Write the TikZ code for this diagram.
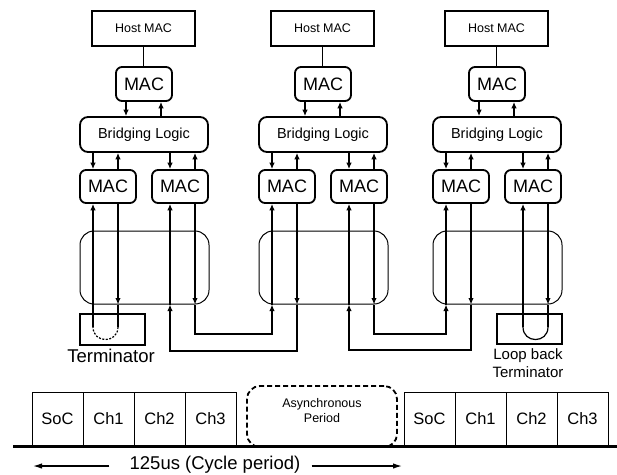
\documentclass[tikz,border=0pt]{standalone}
\usepackage{fontspec}
\setmainfont{Liberation Sans}
\usetikzlibrary{arrows.meta,calc}
\begin{document}
\begin{tikzpicture}[x=1pt,y=-1pt,
  hostbox/.style={draw, line width=1.2pt, minimum width=103pt, minimum height=35pt, inner sep=0pt, font=\fontsize{12.5}{14}\selectfont},
  macbox/.style={draw, line width=1.8pt, rounded corners=6pt, minimum width=56pt, minimum height=34pt, inner sep=0pt, font=\fontsize{18}{20}\selectfont},
  blbox/.style={draw, line width=1.8pt, rounded corners=8pt, minimum width=128pt, minimum height=35pt, inner sep=0pt, font=\fontsize{14.5}{16}\selectfont},
  ringbox/.style={draw, line width=1pt, rounded corners=14pt, minimum width=129pt, minimum height=73pt, inner sep=0pt},
  termbox/.style={draw, line width=1.2pt, minimum width=65pt, minimum height=31pt, inner sep=0pt},
  arr/.style={-{Latex[length=6.5pt,width=5.5pt]}, line width=1.2pt},
  ln/.style={line width=1.2pt},
  slot/.style={draw, line width=1pt, minimum width=51pt, minimum height=54pt, inner sep=0pt, font=\fontsize{16.5}{18}\selectfont},
  lbl/.style={inner sep=0pt, align=center},
  longarr/.style={-{Latex[length=9pt,width=5.5pt]}, line width=1.3pt},
]
\useasboundingbox (0,0) rectangle (617,474);

% helper coordinates for levels
\coordinate (uy) at (0,327);
\coordinate (ya) at (0,334);
\coordinate (yb) at (0,351);
\coordinate (yc) at (0,350);

\foreach \g/\dx in {1/0,2/179,3/353}{
  \node[hostbox] (host\g) at (143.5+\dx,28.5) {Host MAC};
  \node[macbox] (mac\g) at (144+\dx,84) {MAC};
  \node[blbox] (bl\g) at (144+\dx,134.5) {Bridging Logic};
  \node[macbox, minimum height=33pt] (macl\g) at (108+\dx,186.5) {MAC};
  \node[macbox, minimum height=33pt] (macr\g) at (180+\dx,186.5) {MAC};
  \node[ringbox] (ring\g) at (144.5+\dx,267.5) {};
  \draw[ln] (host\g.south) -- (host\g.south |- mac\g.north);
  \draw[arr] ([xshift=-18pt]mac\g.south) -- ([xshift=-18pt]mac\g.south |- bl\g.north);
  \draw[arr] ([xshift=17pt]mac\g.south |- bl\g.north) -- ([xshift=17pt]mac\g.south);
  \draw[arr] ([xshift=-15pt]macl\g.north |- bl\g.south) -- ([xshift=-15pt]macl\g.north);
  \draw[arr] ([xshift=10pt]macl\g.north) -- ([xshift=10pt]macl\g.north |- bl\g.south);
  \draw[arr] ([xshift=-10pt]macr\g.north |- bl\g.south) -- ([xshift=-10pt]macr\g.north);
  \draw[arr] ([xshift=15pt]macr\g.north) -- ([xshift=15pt]macr\g.north |- bl\g.south);
  % verticals through ring
  \draw[arr] ([xshift=-15pt]macl\g.south |- ring\g.south) -- ([xshift=-15pt]macl\g.south);
  \draw[arr] ([xshift=10pt]macl\g.south) -- ([xshift=10pt]macl\g.south |- ring\g.south);
  \draw[arr] ([xshift=-10pt]macr\g.south |- ring\g.south) -- ([xshift=-10pt]macr\g.south);
  \draw[arr] ([xshift=15pt]macr\g.south) -- ([xshift=15pt]macr\g.south |- ring\g.south);
}

% inter-group links
\draw[arr] ([xshift=15pt]macr1.south |- ring1.south) -- ([xshift=15pt]macr1.south |- ya) -| ([xshift=-15pt]macl2.south |- ring2.south);
\draw[arr] ([xshift=10pt]macl2.south |- ring2.south) -- ([xshift=10pt]macl2.south |- yb) -| ([xshift=-10pt]macr1.south |- ring1.south);
\draw[arr] ([xshift=15pt]macr2.south |- ring2.south) -- ([xshift=15pt]macr2.south |- ya) -| ([xshift=-15pt]macl3.south |- ring3.south);
\draw[arr] ([xshift=10pt]macl3.south |- ring3.south) -- ([xshift=10pt]macl3.south |- yc) -| ([xshift=-10pt]macr2.south |- ring2.south);

% terminator (left)
\node[termbox] (term1) at (112.5,329.5) {};
\draw[ln] ([xshift=-15pt]macl1.south |- uy) -- ([xshift=-15pt]macl1.south |- ring1.south);
\draw[ln] ([xshift=10pt]macl1.south |- ring1.south) -- ([xshift=10pt]macl1.south |- uy);
\draw[ln, dash pattern=on 2pt off 1.5pt] ([xshift=10pt]macl1.south |- uy) .. controls +(0,16.7) and +(0,16.7) .. ([xshift=-15pt]macl1.south |- uy);
\node[lbl, font=\fontsize{18.5}{20}\selectfont] (term1lbl) at (111,356) {Terminator};

% loop back terminator (right)
\node[termbox, minimum height=30pt] (term3) at (529.5,329) {};
\draw[ln] ([xshift=-10pt]macr3.south |- uy) -- ([xshift=-10pt]macr3.south |- ring3.south);
\draw[ln] ([xshift=15pt]macr3.south |- ring3.south) -- ([xshift=15pt]macr3.south |- uy);
\draw[ln] ([xshift=15pt]macr3.south |- uy) .. controls +(0,16.7) and +(0,16.7) .. ([xshift=-10pt]macr3.south |- uy);
\node[lbl, font=\fontsize{15}{18}\selectfont] (term3lbl) at (528,363) {Loop back\\Terminator};

% timeline
\foreach \i/\t/\x in {1/SoC/57.5, 2/Ch1/108.5, 3/Ch2/159.5, 4/Ch3/210.5, 5/SoC/429.5, 6/Ch1/480.5, 7/Ch2/531.5, 8/Ch3/582.5}{
  \node[slot] (sl\i) at (\x,419) {\t};
}
\node[draw, line width=1.8pt, dash pattern=on 5pt off 3pt, rounded corners=13pt, minimum width=150pt, minimum height=61pt, inner sep=0pt] (async) at (322,416.5) {};
\node[lbl, font=\fontsize{12.5}{15}\selectfont] (asynctxt) at (322,410.5) {Asynchronous\\Period};
\coordinate (base0) at (13,446);
\coordinate (base1) at (617,446);
\draw[line width=3pt] (base0) -- (base1);

\node[inner sep=0pt, font=\fontsize{18.5}{20}\selectfont] (cyc) at (215,465) {125us (Cycle period)};
\coordinate (al) at (33,466);
\coordinate (ar) at (402,466);
\draw[longarr] ([xshift=-20pt]cyc.west |- al) -- (al);
\draw[longarr] ([xshift=11pt]cyc.east |- ar) -- (ar);
\end{tikzpicture}
\end{document}
